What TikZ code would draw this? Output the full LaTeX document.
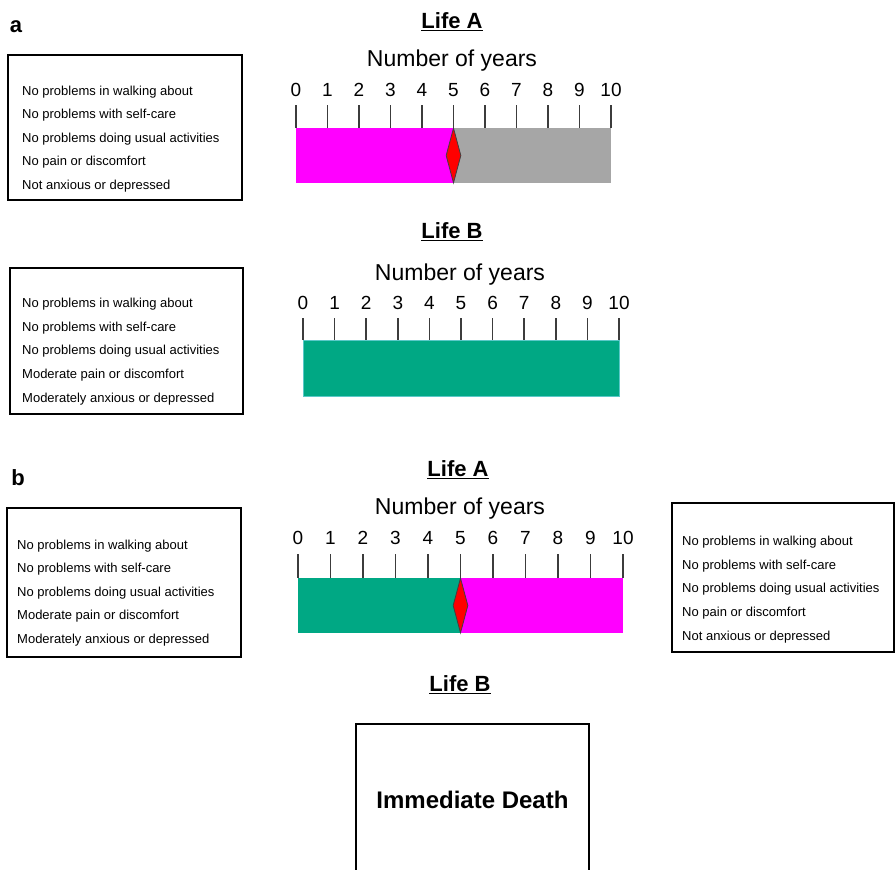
\documentclass[tikz,border=0pt]{standalone}
\usepackage{fontspec}
\setmainfont{Liberation Sans}
\usetikzlibrary{shapes.geometric,positioning}
\definecolor{lifemagenta}{RGB}{255,0,255}
\definecolor{lifegrey}{RGB}{166,166,166}
\definecolor{lifegreen}{RGB}{0,168,132}
\definecolor{lifeedge}{RGB}{90,200,200}
\definecolor{lifered}{RGB}{255,0,0}
\definecolor{tickgrey}{RGB}{60,60,60}

\begin{document}
\begin{tikzpicture}[x=1pt,y=-1pt,
  box/.style={draw=black,line width=1.3pt,rectangle,inner sep=0pt},
  states/.style={align=left,anchor=west,inner sep=0pt,font=\fontsize{13}{23.6}\selectfont},
  title/.style={inner sep=0pt,font=\fontsize{22}{26}\selectfont\bfseries},
  panel/.style={inner sep=0pt,font=\fontsize{22}{26}\selectfont\bfseries},
  years/.style={inner sep=0pt,font=\fontsize{23}{27}\selectfont},
  yearnum/.style={inner sep=0pt,font=\fontsize{19}{22}\selectfont},
  tick/.style={draw=tickgrey,line width=1.5pt},
  marker/.style={diamond,draw=black!75,fill=lifered,line width=0.8pt,inner sep=0pt,minimum width=15pt,minimum height=55pt}]
  \clip (0,0) rectangle (895,870);
  \fill[white] (0,0) rectangle (895,870);

  % panel a, life A
  \node[panel] (pa) at (16,27) {a};
  \node[title] (lifeA1) at (452,22) {\underline{Life A}};
  \node[box,minimum width=234pt,minimum height=145pt] (boxA1) at (125,127.5) {};
  \node[states] (txtA1) at (22,139) {No problems in walking about\\No problems with self-care\\No problems doing usual activities\\No pain or discomfort\\Not anxious or depressed};
  \node[years] (yrsA1) at (452,61) {Number of years};
  \fill[lifemagenta] (296,128) rectangle (453.5,183);
  \fill[lifegrey] (453.5,128) rectangle (611,183);
  \foreach \i in {0,...,10} {
    \node[yearnum] (nA1\i) at ({296+31.5*\i},90) {\i};
    \draw[tick] ({296+31.5*\i},105) -- ({296+31.5*\i},128);
  }
  \node[marker] (dA1) at (453.5,155.5) {};

  % panel a, life B
  \node[title] (lifeB1) at (452,232) {\underline{Life B}};
  \node[box,minimum width=233pt,minimum height=146pt] (boxB1) at (126.5,341) {};
  \node[states] (txtB1) at (22,351.5) {No problems in walking about\\No problems with self-care\\No problems doing usual activities\\Moderate pain or discomfort\\Moderately anxious or depressed};
  \node[years] (yrsB1) at (460,275) {Number of years};
  \filldraw[fill=lifegreen,draw=lifeedge,line width=0.8pt] (303,340) rectangle (619,396);
  \foreach \i in {0,...,10} {
    \node[yearnum] (nB1\i) at ({303+31.6*\i},303) {\i};
    \draw[tick] ({303+31.6*\i},318) -- ({303+31.6*\i},340);
  }

  % panel b, life A
  \node[panel] (pb) at (18,478) {b};
  \node[title] (lifeA2) at (458,470) {\underline{Life A}};
  \node[box,minimum width=234pt,minimum height=149pt] (boxA2) at (124,582.5) {};
  \node[states] (txtA2) at (17,593) {No problems in walking about\\No problems with self-care\\No problems doing usual activities\\Moderate pain or discomfort\\Moderately anxious or depressed};
  \node[box,minimum width=222pt,minimum height=149pt] (boxA3) at (783,577.5) {};
  \node[states] (txtA3) at (682,589.5) {No problems in walking about\\No problems with self-care\\No problems doing usual activities\\No pain or discomfort\\Not anxious or depressed};
  \node[years] (yrsA2) at (460,509) {Number of years};
  \fill[lifegreen] (298,578) rectangle (460.5,633);
  \fill[lifemagenta] (460.5,578) rectangle (623,633);
  \foreach \i in {0,...,10} {
    \node[yearnum] (nA2\i) at ({298+32.5*\i},538) {\i};
    \draw[tick] ({298+32.5*\i},554) -- ({298+32.5*\i},578);
  }
  \node[marker] (dA2) at (460.5,605.5) {};

  % panel b, life B
  \node[title] (lifeB2) at (460,685) {\underline{Life B}};
  \node[box,minimum width=233pt,minimum height=152pt,font=\fontsize{24}{28}\selectfont\bfseries] (death) at (472.5,800) {Immediate Death};
\end{tikzpicture}
\end{document}
